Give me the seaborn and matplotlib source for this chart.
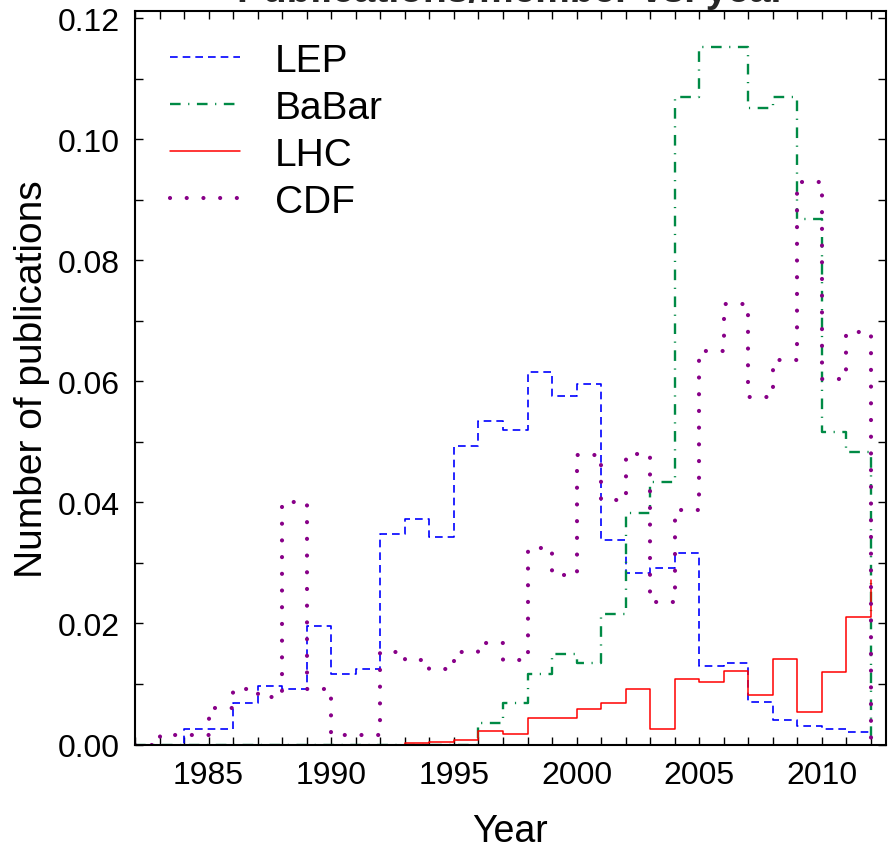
import numpy as np
import pandas as pd
import matplotlib
matplotlib.use('Agg')
import matplotlib.pyplot as plt
from matplotlib.ticker import MultipleLocator
import seaborn as sns

years = list(range(1982, 2013))

lep = [0, 0, 0.0026, 0.0025, 0.0069, 0.0096, 0.0091, 0.0196, 0.0116, 0.0125,
       0.0348, 0.0373, 0.0343, 0.0494, 0.0535, 0.0520, 0.0615, 0.0576, 0.0596, 0.0338,
       0.0284, 0.0292, 0.0317, 0.0130, 0.0135, 0.0071, 0.0040, 0.0030, 0.0025, 0.0020,
       0.0020]
babar = [0, 0, 0, 0, 0, 0, 0, 0, 0, 0,
         0, 0, 0, 0, 0.0035, 0.0068, 0.0117, 0.0150, 0.0134, 0.0216,
         0.0383, 0.0434, 0.1070, 0.1152, 0.1152, 0.1052, 0.1070, 0.0868, 0.0517, 0.0484,
         0]
lhc = [0, 0, 0, 0, 0, 0, 0, 0, 0, 0,
       0, 0.0003, 0.0004, 0.0008, 0.0023, 0.0018, 0.0043, 0.0043, 0.0058, 0.0069,
       0.0091, 0.0026, 0.0109, 0.0103, 0.0121, 0.0082, 0.0142, 0.0053, 0.0119, 0.0210,
       0.0272]
cdf = [0, 0.0015, 0.0015, 0.0060, 0.0092, 0.0078, 0.0400, 0.0092, 0.0015, 0.0015,
       0.0153, 0.0139, 0.0124, 0.0153, 0.0168, 0.0139, 0.0325, 0.0280, 0.0479, 0.0404,
       0.0480, 0.0235, 0.0388, 0.0650, 0.0728, 0.0574, 0.0635, 0.0929, 0.0604, 0.0682,
       0]

names = ['LEP', 'BaBar', 'LHC', 'CDF']
series = [lep, babar, lhc, cdf]
colors = ['#0000ff', '#008a45', '#ff0000', '#880088']
widths = [1.2, 1.7, 1.1, 3.0]
styles = [(0, (4.6, 3.0)), (0, (4.5, 3.2, 0.5, 3.2)), '-', (0, (0.01, 4.0))]

sns.set_style('ticks')
plt.rcParams['font.family'] = ['Liberation Sans', 'DejaVu Sans']

fig = plt.figure(figsize=(8.88, 8.53), dpi=100)
ax = fig.add_axes([0.152, 0.126, 0.8457, 0.86])

for name, vals, c, lw, ls in zip(names, series, colors, widths, styles):
    df = pd.DataFrame({'Year': years, 'Value': vals})
    sns.lineplot(x='Year', y='Value', data=df, ax=ax, color=c, linewidth=lw,
                 linestyle=ls, drawstyle='steps-post', label=name,
                 dash_capstyle='round' if name == 'CDF' else 'butt')

ax.set_xlim(1982, 2012.61)
ax.set_ylim(0, 0.1212)
ax.xaxis.set_major_locator(MultipleLocator(5))
ax.xaxis.set_minor_locator(MultipleLocator(1))
ax.yaxis.set_major_locator(MultipleLocator(0.02))
ax.yaxis.set_minor_locator(MultipleLocator(0.01))
ax.yaxis.set_major_formatter(plt.FormatStrFormatter('%.2f'))
ax.tick_params(which='both', direction='in', top=True, right=True,
               length=6, width=1, color='black', labelcolor='black',
               labelsize=23, pad=11)
for s in ax.spines.values():
    s.set_linewidth(1.5)
    s.set_color('black')

ax.set_xlabel('Year', fontsize=27, color='black')
ax.set_ylabel('Number of publications', fontsize=28, color='black')
ax.xaxis.set_label_coords(0.5, -0.094)
ax.yaxis.set_label_coords(-0.113, 0.5)

fig.text(511 / 888, 1 - 2 / 853, 'Publications/member vs. year', fontsize=28,
         fontweight='bold', ha='center', va='baseline')

leg = ax.legend(loc='upper left', bbox_to_anchor=(0.0, 1.004), frameon=False,
                fontsize=28, handlelength=1.8, handletextpad=0.9, labelspacing=0.28)
for t in leg.get_texts():
    t.set_color('black')

fig.savefig('out.png', dpi=100)
